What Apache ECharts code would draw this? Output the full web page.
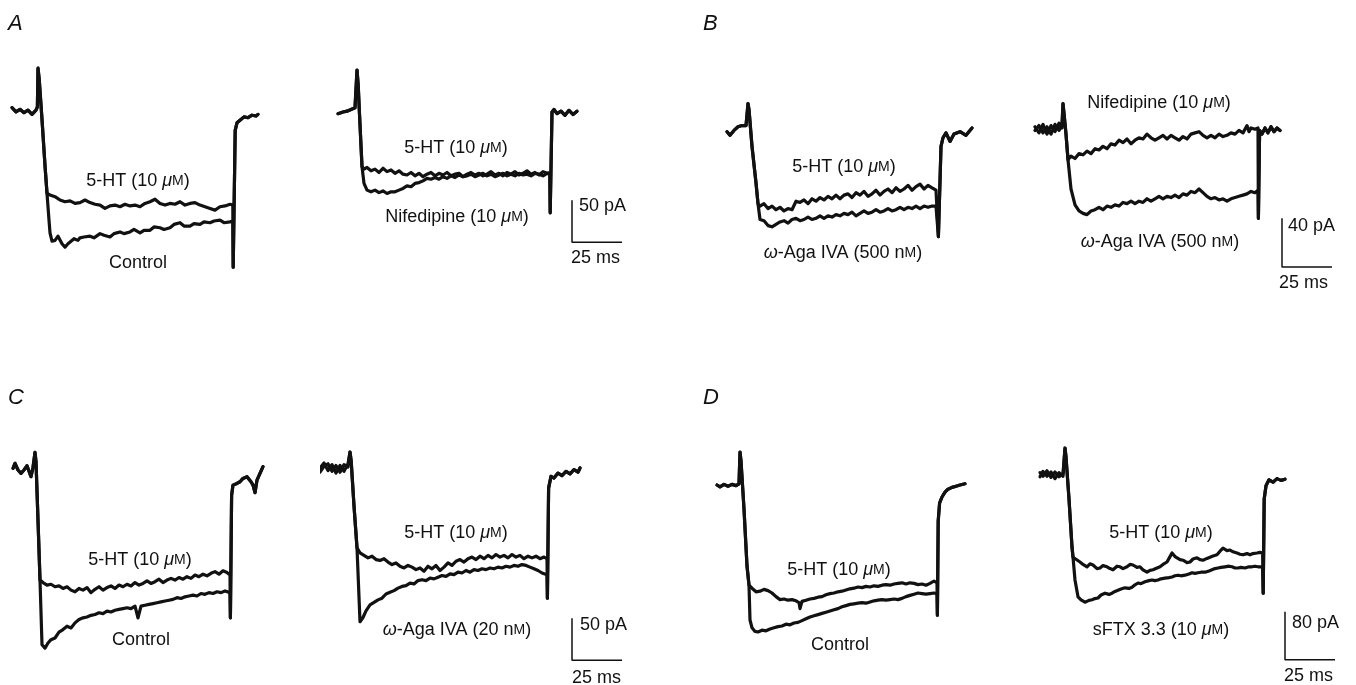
<!DOCTYPE html>
<html>
<head>
<meta charset="utf-8">
<script src="https://cdn.jsdelivr.net/npm/echarts@6/dist/echarts.min.js"></script>
<style>
  html, body { margin: 0; padding: 0; background: #fff; }
  #chart { width: 1356px; height: 685px; }
</style>
</head>
<body>
<div id="chart"></div>
<script>
// time in ms from step onset, current in pA relative to holding current

// Panel A, left: 5-HT vs control
const a1Onset = [[-13,4],[-11,-1],[-9,2],[-7,-2],[-5,1],[-3,-4],[-1,1],[-0.3,5],[0,51],[0.6,38],[2,-10],[3.5,-65],[4.5,-98]];
const a1HT = [[6,-100],[8.5,-102],[11,-106],[13.5,-108],[16,-107],[18.5,-110],[21,-109],[23.5,-106],[26,-109],[28.5,-111],[31,-112],[33.5,-116],[36,-113],[38.5,-112],[41,-114],[43.5,-111],[46,-113],[48.5,-112],[51,-114],[53.5,-110],[56,-108],[58.5,-105],[61,-110],[63.5,-112],[66,-110],[68.5,-111],[71,-108],[73.5,-112],[76,-110],[78.5,-109],[81,-112],[83.5,-114],[86,-116],[88.5,-118],[91,-114],[93.5,-113],[96,-111],[97.4,-112]];
const a1Control = [[5.5,-130],[6,-145],[7,-155],[8.5,-154],[10,-149],[11,-150],[12,-158],[13.5,-162],[15,-158],[16,-157],[18,-152],[20,-154],[21,-151],[23,-150],[26,-149],[28,-151],[31,-146],[33,-148],[36,-150],[38,-146],[41,-144],[43,-146],[46,-144],[48,-141],[51,-145],[53,-142],[56,-142],[58,-138],[61,-139],[63,-141],[66,-139],[68,-135],[71,-133],[73,-137],[76,-137],[78,-134],[81,-135],[83,-132],[86,-133],[88,-131],[91,-130],[93,-133],[96,-132],[97.4,-131]];
const a1Off = [[97.6,-186],[98.6,-23],[99.5,-14],[101,-11],[103,-7],[105,-8],[107,-5],[109,-6],[110,-4]];

// Panel A, right: 5-HT vs nifedipine
const a2Onset = [[-9.5,-2],[-7,0],[-5,1],[-3,3],[-1,5],[-0.3,6],[0,50],[0.6,32],[1.2,0],[2,-40],[2.5,-65]];
const a2HT = [[3.5,-68],[5,-66],[7,-70],[9,-68],[11,-72],[13,-67],[15,-71],[17,-69],[19,-73],[21,-70],[23,-74],[25,-75],[27,-72],[29,-76],[31,-73],[33,-77],[35,-74],[37,-72],[39,-76],[41,-73],[43,-75],[45,-72],[47,-76],[49,-74],[51,-73],[53,-77],[55,-74],[57,-72],[59,-75],[61,-73],[63,-76],[65,-74],[67,-71],[69,-75],[71,-73],[73,-76],[75,-72],[77,-74],[79,-71],[81,-75],[83,-73],[85,-70],[87,-74],[89,-72],[91,-75],[93,-71],[95,-73],[96.4,-72]];
const a2Nif = [[3.5,-85],[5,-93],[7,-95],[9,-93],[11,-96],[13,-94],[15,-97],[17,-95],[19,-95],[21,-93],[23,-91],[25,-88],[27,-89],[29,-85],[31,-84],[33,-82],[35,-79],[37,-80],[39,-78],[41,-80],[43,-77],[45,-79],[47,-76],[49,-78],[51,-75],[53,-77],[55,-76],[57,-74],[59,-77],[61,-75],[63,-73],[65,-76],[67,-74],[69,-77],[71,-75],[73,-73],[75,-76],[77,-74],[79,-76],[81,-73],[83,-75],[85,-74],[87,-76],[89,-73],[91,-74],[93,-76],[95,-73],[96.4,-74]];
const a2Off = [[96.6,-120],[97.5,0],[98.5,3],[100,-2],[102,1],[104,-4],[106,2],[108,-3],[110,1]];

// Panel B, left: 5-HT vs w-Aga IVA
const b1Onset = [[-10.5,-3],[-9,-6],[-7,-2],[-5,1],[-3,2],[-1,2],[-0.3,3],[0,20],[0.5,15],[2,-15],[4,-45],[5,-62]];
const b1HT = [[6,-64],[8,-62],[10,-66],[12,-64],[14,-67],[16,-65],[18,-68],[20,-66],[22,-67],[24,-60],[26,-61],[28,-59],[30,-62],[32,-58],[34,-60],[36,-57],[38,-59],[40,-56],[42,-58],[44,-55],[46,-58],[48,-55],[50,-54],[52,-57],[54,-53],[56,-55],[58,-52],[60,-56],[62,-54],[64,-51],[66,-55],[68,-52],[70,-50],[72,-53],[74,-49],[76,-52],[78,-50],[80,-47],[82,-51],[84,-48],[86,-46],[88,-50],[90,-47],[92,-49],[94,-51],[95,-50]];
const b1Aga = [[6,-75],[8,-76],[10,-80],[12,-81],[14,-79],[16,-77],[18,-76],[20,-78],[22,-75],[24,-74],[26,-76],[28,-75],[30,-73],[32,-75],[34,-74],[36,-72],[38,-74],[40,-72],[42,-73],[44,-71],[46,-72],[48,-70],[50,-71],[52,-69],[54,-72],[56,-70],[58,-68],[60,-70],[62,-69],[64,-67],[66,-69],[68,-68],[70,-66],[72,-68],[74,-67],[76,-65],[78,-67],[80,-65],[82,-66],[84,-64],[86,-66],[88,-64],[90,-65],[92,-64],[94,-64],[95,-64]];
const b1Off = [[95.2,-89],[96.5,-15],[97.5,-8],[99,-4],[101,-11],[103,-5],[106,-3],[109,-6],[112,0]];

// Panel B, right: nifedipine vs w-Aga IVA
const b2Onset = [[-14,1],[-12,-4],[-10,3],[-8,-5],[-6,2],[-4,-3],[-2,4],[-0.5,0],[0,20],[0.5,12],[1.5,-5],[2.5,-26]];
const b2Onset2 = [[-14,-2],[-12,2],[-10,-4],[-8,1],[-6,-5],[-4,3],[-2,-2],[-0.5,3],[0,20],[0.5,12],[1.5,-5],[2.5,-26]];
const b2Nif = [[4,-23],[6,-25],[8,-21],[10,-22],[12,-19],[14,-21],[16,-17],[18,-18],[20,-15],[22,-17],[24,-13],[26,-14],[28,-10],[30,-12],[32,-9],[34,-13],[36,-10],[38,-8],[40,-9],[42,-5],[44,-8],[46,-10],[48,-8],[50,-6],[52,-9],[54,-6],[56,-8],[58,-10],[60,-7],[62,-9],[64,-5],[66,-4],[68,-3],[70,-6],[72,-8],[74,-6],[76,-8],[78,-5],[80,-7],[82,-6],[84,-4],[86,-5],[88,-2],[90,-4],[92,2],[93,-3],[94,0],[96,-1],[97.5,0]];
const b2Aga = [[4,-50],[6,-63],[8,-68],[10,-70],[12,-71],[14,-68],[16,-67],[18,-65],[20,-67],[22,-64],[24,-65],[26,-63],[28,-64],[30,-61],[32,-62],[34,-60],[36,-62],[38,-60],[40,-61],[42,-58],[44,-60],[46,-58],[48,-56],[50,-58],[52,-56],[54,-57],[56,-55],[58,-57],[60,-54],[62,-55],[64,-52],[66,-53],[68,-50],[70,-53],[72,-56],[74,-58],[76,-57],[78,-59],[80,-58],[82,-60],[84,-58],[86,-57],[88,-56],[90,-55],[92,-54],[94,-52],[96,-53],[97.5,-51]];
const b2Off = [[97.7,-74],[98.3,-2],[99.5,-5],[101,0],[102.5,-4],[104,1],[105.5,-3],[107,0],[108.5,-2]];

// Panel C, left: 5-HT vs control
const c1Onset = [[-11,2],[-10,8],[-8.5,0],[-7,-4],[-5.5,0],[-4,5],[-3,4],[-2,-8],[-1,3],[-0.3,2],[0,21],[0.5,10],[1.5,-60],[2.5,-131]];
const c1HT = [[4,-134],[6,-137],[8,-136],[10,-139],[12,-138],[14,-141],[16,-139],[18,-143],[20,-145],[22,-141],[24,-143],[26,-140],[28,-146],[30,-142],[32,-139],[34,-143],[36,-140],[38,-138],[40,-141],[42,-137],[44,-139],[46,-136],[48,-138],[50,-134],[52,-137],[54,-135],[56,-132],[58,-135],[60,-133],[62,-130],[64,-134],[66,-131],[68,-129],[70,-131],[72,-128],[74,-130],[76,-127],[78,-129],[80,-125],[82,-127],[84,-124],[86,-126],[88,-123],[90,-121],[92,-124],[94,-120],[96,-122],[97.5,-125]];
const c1Control = [[3.5,-208],[5,-212],[6.5,-206],[8,-202],[10,-200],[12,-193],[14,-190],[16,-186],[18,-188],[20,-182],[22,-178],[24,-176],[26,-175],[28,-173],[30,-172],[32,-170],[34,-171],[36,-168],[38,-169],[40,-167],[42,-166],[44,-165],[46,-164],[48,-165],[50,-162],[51.5,-176],[53,-162],[55,-161],[57,-160],[59,-159],[61,-158],[63,-157],[65,-156],[67,-155],[69,-154],[71,-152],[73,-153],[75,-151],[77,-150],[79,-149],[81,-150],[83,-147],[85,-148],[87,-146],[89,-147],[91,-145],[93,-146],[95,-144],[97.5,-146]];
const c1Off = [[97.7,-176],[98.3,-30],[99,-18],[101,-16],[102.5,-14],[104,-10],[106,-8],[108,-14],[109,-18],[110,-27],[111,-12],[112.5,-4],[114,4]];

// Panel C, right: 5-HT vs w-Aga IVA (20 nM)
const c2Onset = [[-15,0],[-13,6],[-11,-3],[-9,4],[-7,-6],[-5,3],[-3,-4],[-1,5],[-0.3,4],[0,19],[0.6,8],[2,-45],[3.5,-95]];
const c2Onset2 = [[-15,-5],[-13,2],[-11,5],[-9,-4],[-7,3],[-5,-5],[-3,4],[-1,1],[-0.3,2],[0,19],[0.6,8],[2,-45],[3.5,-95]];
const c2HT = [[5,-101],[7,-104],[9,-107],[11,-105],[13,-109],[15,-110],[17,-108],[19,-112],[21,-115],[23,-113],[25,-117],[27,-119],[29,-116],[31,-118],[33,-121],[35,-119],[37,-123],[39,-117],[41,-120],[43,-116],[45,-122],[47,-118],[49,-113],[51,-116],[53,-111],[55,-109],[57,-112],[59,-108],[61,-106],[63,-109],[65,-105],[67,-108],[69,-104],[71,-107],[73,-103],[75,-106],[77,-104],[79,-107],[81,-103],[83,-106],[85,-104],[87,-108],[89,-105],[91,-107],[93,-105],[95,-108],[97,-106],[98.5,-108]];
const c2Aga = [[5,-183],[6.5,-178],[8,-170],[10,-163],[12,-160],[14,-157],[16,-155],[18,-150],[20,-148],[22,-146],[24,-143],[26,-141],[28,-140],[30,-137],[32,-138],[34,-134],[36,-133],[38,-134],[40,-131],[42,-132],[44,-130],[46,-128],[48,-129],[50,-126],[52,-127],[54,-124],[56,-125],[58,-122],[60,-124],[62,-121],[64,-122],[66,-120],[68,-121],[70,-119],[72,-120],[74,-118],[76,-119],[78,-117],[80,-118],[82,-116],[84,-117],[86,-115],[88,-116],[90,-118],[92,-120],[94,-122],[96,-125],[98.5,-127]];
const c2Off = [[98.7,-155],[99.3,-24],[100.5,-10],[102,-12],[104,-6],[106,-9],[108,-4],[110,-7],[112,-2],[114,-5],[115,0]];

// Panel D, left: 5-HT vs control
const d1Onset = [[-11.5,0],[-10,-3],[-8,1],[-6,-2],[-4,1],[-2,-1],[-0.5,2],[0,55],[0.5,40],[2,-40],[3.5,-135],[4.5,-167]];
const d1HT = [[6,-172],[8,-178],[10,-177],[12,-174],[14,-176],[16,-180],[18,-186],[20,-191],[22,-190],[24,-192],[26,-191],[28,-193],[29.5,-196],[30,-206],[31,-194],[33,-192],[35,-190],[37,-189],[39,-187],[41,-186],[43,-183],[45,-181],[47,-180],[49,-178],[51,-177],[53,-175],[55,-173],[57,-172],[59,-170],[61,-171],[63,-169],[65,-170],[67,-168],[69,-169],[71,-167],[73,-166],[75,-167],[77,-165],[79,-164],[81,-163],[83,-165],[85,-163],[87,-164],[89,-166],[91,-165],[93,-167],[95,-164],[97,-160],[98.5,-163]];
const d1Control = [[5,-225],[6,-238],[7.5,-244],[9,-245],[11,-242],[13,-243],[15,-240],[17,-238],[19,-236],[21,-235],[23,-232],[25,-233],[27,-230],[29,-229],[31,-226],[33,-223],[35,-220],[37,-218],[39,-216],[41,-214],[43,-212],[45,-210],[47,-208],[49,-206],[51,-203],[53,-201],[55,-199],[57,-198],[59,-197],[61,-196],[63,-197],[65,-195],[67,-193],[69,-192],[71,-191],[73,-192],[75,-191],[77,-190],[79,-191],[81,-189],[83,-186],[85,-184],[87,-182],[89,-180],[91,-181],[93,-182],[95,-181],[97,-180],[98.5,-181]];
const d1Off = [[98.7,-217],[99.1,-60],[99.8,-30],[101,-20],[102.5,-12],[104,-7],[106,-4],[108,-2],[110,0],[112.5,2]];

// Panel D, right: 5-HT vs sFTX 3.3
const d2Onset = [[-12.5,4],[-11,-2],[-9,7],[-7,-4],[-5,5],[-3,-3],[-1,2],[-0.3,3],[0,45],[0.5,30],[2,-40],[3.5,-120],[4,-137]];
const d2Onset2 = [[-12.5,-3],[-11,6],[-9,-2],[-7,5],[-5,-6],[-3,4],[-1,-2],[-0.3,0],[0,45],[0.5,30],[2,-40],[3.5,-120],[4,-137]];
const d2HT = [[7.5,-145],[9,-149],[11,-153],[12.5,-148],[14,-150],[16,-156],[17.5,-155],[19,-151],[21,-153],[22.5,-156],[24,-158],[26,-152],[27.5,-153],[29,-156],[31,-153],[32.5,-149],[34,-150],[36,-154],[37.5,-153],[39,-158],[41,-162],[42.5,-159],[44,-158],[46,-155],[47.5,-153],[49,-149],[51,-145],[52.5,-136],[53.5,-130],[55,-136],[56,-138],[57.5,-141],[59,-142],[61,-146],[62.5,-145],[64,-140],[66,-138],[67.5,-141],[69,-142],[71,-139],[72.5,-137],[74,-135],[76,-133],[77.5,-127],[79,-122],[81,-126],[82.5,-125],[84,-128],[86,-130],[87.5,-132],[89,-133],[91,-131],[92.5,-133],[94,-131],[96,-130],[97.5,-129],[98.8,-130]];
const d2Sftx = [[5,-175],[6.5,-203],[8,-208],[10,-212],[12,-209],[13.5,-208],[15,-206],[16.5,-205],[18,-200],[20,-197],[22,-199],[23.5,-197],[25,-194],[26.5,-192],[28,-190],[30,-188],[32,-189],[33.5,-187],[35,-183],[36.5,-180],[38,-181],[40,-178],[42,-176],[43.5,-175],[45,-176],[46.5,-175],[48,-173],[50,-172],[52,-171],[53.5,-170],[55,-168],[56.5,-167],[58,-168],[60,-167],[62,-165],[63.5,-163],[65,-164],[66.5,-163],[68,-162],[70,-162],[72,-160],[73.5,-158],[75,-156],[76.5,-155],[78,-154],[80,-153],[82,-152],[83.5,-153],[85,-155],[86.5,-155],[88,-154],[90,-155],[92,-153],[93.5,-153],[95,-152],[96.5,-153],[98.8,-153]];
const d2Off = [[99.1,-197],[99.6,-40],[100.5,-18],[102,-8],[104,-12],[106,-6],[108,-9],[110,-7]];

// scale bars: [corner time, corner current, ms, pA]
const scaleA = [107.5, -155, 25, 50];
const scaleB = [109.5, -114, 25, 40];
const scaleC = [111, -229, 25, 50];
const scaleD = [110, -308, 25, 80];

// ---- layout (pixels): step onset x, baseline y, px per pA
const KX = 2;
const layout = [
  { x0: 38, yb: 111, ky: 0.84 },
  { x0: 357, yb: 112, ky: 0.84 },
  { x0: 748, yb: 128, ky: 1.22 },
  { x0: 1063, yb: 128, ky: 1.22 },
  { x0: 35, yb: 470, ky: 0.84 },
  { x0: 350, yb: 468, ky: 0.84 },
  { x0: 740, yb: 485, ky: 0.6 },
  { x0: 1065, yb: 475, ky: 0.6 }
];

const traces = [
  [a1Onset.concat(a1HT, a1Off), a1Onset.concat(a1Control, a1Off)],
  [a2Onset.concat(a2HT, a2Off), a2Onset.concat(a2Nif, a2Off)],
  [b1Onset.concat(b1HT, b1Off), b1Onset.concat(b1Aga, b1Off)],
  [b2Onset.concat(b2Nif, b2Off), b2Onset2.concat(b2Aga, b2Off)],
  [c1Onset.concat(c1HT, c1Off), c1Onset.concat(c1Control, c1Off)],
  [c2Onset.concat(c2HT, c2Off), c2Onset2.concat(c2Aga, c2Off)],
  [d1Onset.concat(d1HT, d1Off), d1Onset.concat(d1Control, d1Off)],
  [d2Onset.concat(d2HT, d2Off), d2Onset2.concat(d2Sftx, d2Off)]
];
const scaleBars = { 1: scaleA, 3: scaleB, 5: scaleC, 7: scaleD };

const FONT = '"Liberation Sans", Arial, Helvetica, sans-serif';
const INK = '#111';

const grids = [], xAxes = [], yAxes = [], series = [];
layout.forEach((p, i) => {
  grids.push({ left: p.x0 - 14 * KX, top: p.yb - 90, width: 150 * KX, height: 290 });
  xAxes.push({ gridIndex: i, type: 'value', min: -14, max: 136, show: false });
  yAxes.push({ gridIndex: i, type: 'value', min: -200 / p.ky, max: 90 / p.ky, show: false });
  traces[i].forEach(tr => {
    series.push({
      type: 'line', xAxisIndex: i, yAxisIndex: i, data: tr,
      showSymbol: false, silent: true, clip: false,
      lineStyle: { color: INK, width: 3.2, join: 'round', cap: 'round' }
    });
  });
  const sb = scaleBars[i];
  if (sb) {
    series.push({
      type: 'line', xAxisIndex: i, yAxisIndex: i, showSymbol: false, silent: true, clip: false,
      data: [[sb[0], sb[1] + sb[3]], [sb[0], sb[1]], [sb[0] + sb[2], sb[1]]],
      lineStyle: { color: INK, width: 1.5 }
    });
  }
});

// text labels
const rich = {
  i: { fontFamily: FONT, fontSize: 18, fontStyle: 'italic', fill: INK },
  s: { fontFamily: FONT, fontSize: 14, fill: INK }
};
function label(x, y, text, align) {
  return {
    type: 'text', x: x, y: y, silent: true,
    style: { text: text, rich: rich, fontFamily: FONT, fontSize: 18, fill: INK,
             align: align || 'center', verticalAlign: 'middle' }
  };
}
function letter(x, y, t) {
  return { type: 'text', x: x, y: y, silent: true,
    style: { text: t, fontFamily: FONT, fontSize: 22, fontStyle: 'italic', fill: INK,
             align: 'left', verticalAlign: 'middle' } };
}
const HT = '5-HT (10 {i|μ}{s|M})';
const graphics = [
  letter(8, 24, 'A'), letter(703, 24, 'B'), letter(8, 398, 'C'), letter(703, 398, 'D'),
  label(138, 181, HT), label(138, 263, 'Control'),
  label(456, 148, HT), label(457, 217, 'Nifedipine (10 {i|μ}{s|M})'),
  label(579, 206, '50 pA', 'left'), label(571, 258, '25 ms', 'left'),
  label(844, 167, HT), label(843, 253, '{i|ω}-Aga IVA (500 n{s|M})'),
  label(1159, 103, 'Nifedipine (10 {i|μ}{s|M})'), label(1160, 242, '{i|ω}-Aga IVA (500 n{s|M})'),
  label(1288, 226, '40 pA', 'left'), label(1279, 283, '25 ms', 'left'),
  label(140, 560, HT), label(141, 640, 'Control'),
  label(456, 533, HT), label(457, 630, '{i|ω}-Aga IVA (20 n{s|M})'),
  label(580, 625, '50 pA', 'left'), label(572, 678, '25 ms', 'left'),
  label(839, 570, HT), label(840, 645, 'Control'),
  label(1161, 533, HT), label(1161, 630, 'sFTX 3.3 (10 {i|μ}{s|M})'),
  label(1292, 623, '80 pA', 'left'), label(1284, 676, '25 ms', 'left')
];

const chart = echarts.init(document.getElementById('chart'));
chart.setOption({
  backgroundColor: '#fff',
  animation: false,
  grid: grids,
  xAxis: xAxes,
  yAxis: yAxes,
  series: series,
  graphic: graphics
});
</script>
</body>
</html>
